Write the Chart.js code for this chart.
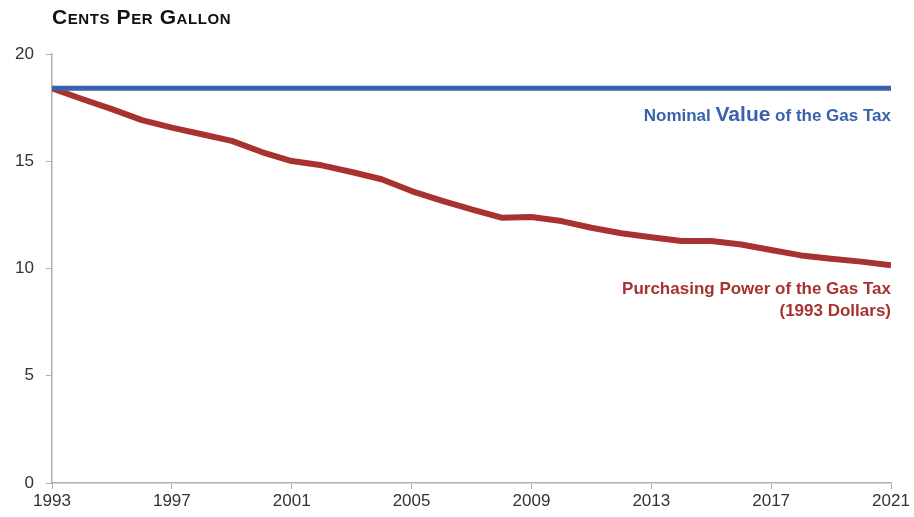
<!DOCTYPE html>
<html lang="en">

<head>
  <meta charset="UTF-8">
  <title>gas tax</title>
  <style>
    body { margin: 0; background: #fff; }
    #wrap { position: relative; width: 914px; height: 517px; }
    .lbl { position: absolute; font-family: "Liberation Sans", Arial, sans-serif; font-weight: bold; white-space: nowrap; }
    #title { left: 52px; top: 5px; font-size: 21px; letter-spacing: 0.6px; color: #111; font-variant: small-caps; }
    #nominal { right: 23px; top: 102px; font-size: 17px; color: #3862ae; text-align: right; }
    #nominal span { font-size: 21px; }
    #power { right: 23px; top: 278px; font-size: 17px; line-height: 22px; color: #a8322f; text-align: right; }
  </style>
</head>

<body>
  <div id="wrap">
    <canvas id="myChart" width="914" height="517"></canvas>
    <div class="lbl" id="title">Cents Per Gallon</div>
    <div class="lbl" id="nominal">Nominal <span>Value</span> of the Gas Tax</div>
    <div class="lbl" id="power">Purchasing Power of the Gas Tax<br>(1993 Dollars)</div>
  </div>

  <script src="https://cdn.jsdelivr.net/npm/chart.js"></script>
  <script>
    const years = [1993, 1994, 1995, 1996, 1997, 1998, 1999, 2000, 2001, 2002,
      2003, 2004, 2005, 2006, 2007, 2008, 2009, 2010, 2011, 2012,
      2013, 2014, 2015, 2016, 2017, 2018, 2019, 2020, 2021]
    const nominal = [18.4, 18.4, 18.4, 18.4, 18.4, 18.4, 18.4, 18.4, 18.4, 18.4,
      18.4, 18.4, 18.4, 18.4, 18.4, 18.4, 18.4, 18.4, 18.4, 18.4,
      18.4, 18.4, 18.4, 18.4, 18.4, 18.4, 18.4, 18.4, 18.4]
    const purchasing = [18.4, 17.9, 17.43, 16.92, 16.57, 16.26, 15.95, 15.43, 15.01, 14.81,
      14.5, 14.16, 13.61, 13.16, 12.76, 12.37, 12.4, 12.21, 11.9, 11.64,
      11.46, 11.28, 11.28, 11.12, 10.86, 10.61, 10.45, 10.32, 10.15]
    const yTicks = [0, 5, 10, 15, 20]
    const xTicks = [1993, 1997, 2001, 2005, 2009, 2013, 2017, 2021]

    const toPoints = (vals) => years.map((y, i) => ({ x: y, y: vals[i] }))

    const axisColor = '#b0b0b0'

    new Chart(document.getElementById('myChart'), {
      type: 'line',
      data: {
        datasets: [
          {
            label: 'Nominal Value of the Gas Tax',
            data: toPoints(nominal),
            borderColor: '#3862ae',
            borderWidth: 5,
            pointRadius: 0,
            borderCapStyle: 'butt'
          },
          {
            label: 'Purchasing Power of the Gas Tax (1993 Dollars)',
            data: toPoints(purchasing),
            borderColor: '#a8322f',
            borderWidth: 6,
            pointRadius: 0,
            borderJoinStyle: 'round'
          }
        ]
      },
      options: {
        responsive: false,
        animation: false,
        layout: { padding: { top: 54, right: 23, left: 0, bottom: 0 } },
        plugins: { legend: { display: false }, tooltip: { enabled: false } },
        scales: {
          x: {
            type: 'linear',
            min: 1993,
            max: 2021,
            afterBuildTicks: (s) => { s.ticks = xTicks.map(v => ({ value: v })) },
            afterFit: (s) => { s.height = 34 },
            ticks: { color: '#333', font: { family: 'Liberation Sans, sans-serif', size: 17 }, padding: 2, callback: (v) => String(v) },
            grid: { drawOnChartArea: false, drawTicks: true, tickLength: 6, color: axisColor },
            border: { color: axisColor, width: 1.5 }
          },
          y: {
            min: 0,
            max: 20,
            afterBuildTicks: (s) => { s.ticks = yTicks.map(v => ({ value: v })) },
            afterFit: (s) => { s.width = 52 },
            ticks: { color: '#333', font: { family: 'Liberation Sans, sans-serif', size: 17 }, padding: 12 },
            grid: { drawOnChartArea: false, drawTicks: true, tickLength: 6, color: axisColor },
            border: { color: axisColor, width: 1.5 }
          }
        }
      }
    })
  </script>
</body>

</html>
